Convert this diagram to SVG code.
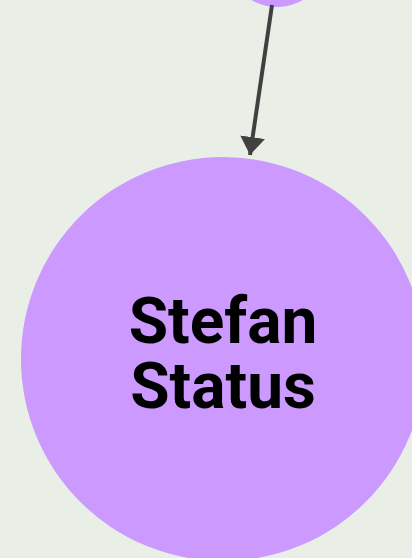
<svg xmlns="http://www.w3.org/2000/svg" width="412" height="558" viewBox="0 0 412 558">
  <style>
    .node { fill: #cc99ff; }
    .label { font-family: Roboto, "Liberation Sans", sans-serif; font-weight: 700; font-size: 64px; fill: #000; text-anchor: middle; }
    .edge { stroke: #404040; stroke-width: 4; fill: none; }
  </style>
  <defs>
    <marker id="arrow" markerUnits="userSpaceOnUse" markerWidth="26" markerHeight="26" refX="18" refY="13" orient="auto">
      <path d="M0,0.5 L18,13 L0,25.5 Z" fill="#404040"/>
    </marker>
  </defs>
  <rect width="412" height="558" fill="#e9efe7"/>
  <g id="node-top">
    <circle class="node" cx="277" cy="-44" r="51"/>
  </g>
  <g id="node-stefan-status">
    <circle class="node" cx="223" cy="359" r="202"/>
    <text class="label" x="223" y="343">Stefan</text>
    <text class="label" x="223" y="408">Status</text>
  </g>
  <g id="connectors">
    <line class="edge" x1="272" y1="5" x2="250" y2="155" marker-end="url(#arrow)"/>
  </g>
</svg>
